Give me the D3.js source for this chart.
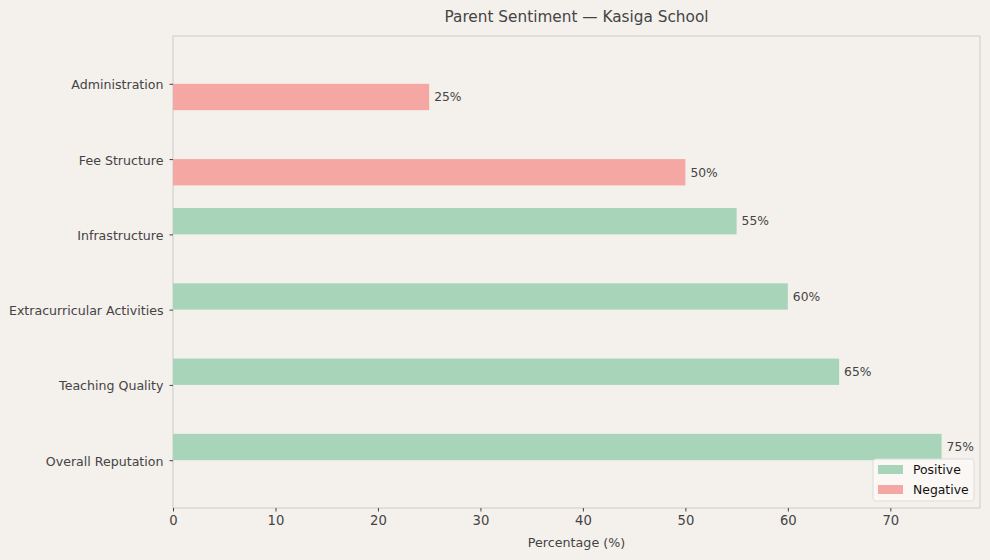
<!DOCTYPE html>
<html><head><meta charset="utf-8">
<script src="https://cdn.jsdelivr.net/npm/d3@7"></script>
<style>
body{margin:0;background:#f4f0ec;}
svg{display:block;font-family:"DejaVu Sans",sans-serif;}
</style></head>
<body>
<svg id="c" width="990" height="560"></svg>
<script>
const categories = ["Overall Reputation","Teaching Quality","Extracurricular Activities","Infrastructure","Fee Structure","Administration"];
const positive = [75,65,60,55,0,0];
const negative = [0,0,0,0,50,25];
const xTicks = [0,10,20,30,40,50,60,70];
const seriesNames = ["Positive","Negative"];
const colors = ["#a8d5b9","#f5a8a3"];

const svg = d3.select("#c");
svg.append("rect").attr("width",990).attr("height",560).attr("fill","#f4f0ec");
const L=173,R=980,T=36,B=508;
const x = d3.scaleLinear().domain([0,78.75]).range([L,R]);
const y = d3.scaleLinear().domain([-0.635,5.635]).range([B,T]);
const bw = 0.35;

svg.append("rect").attr("x",L).attr("y",T).attr("width",R-L).attr("height",B-T)
  .attr("fill","none").attr("stroke","#cccccc").attr("stroke-width",1);

const series=[positive,negative];
series.forEach((vals,si)=>{
  const off = si===0 ? bw/2 : -bw/2;
  svg.append("g").selectAll("rect").data(vals).join("rect")
    .attr("x",x(0))
    .attr("y",(d,i)=>y(i+off+bw/2))
    .attr("width",d=>x(d)-x(0))
    .attr("height",y(0)-y(bw))
    .attr("fill",colors[si]);
  svg.append("g").selectAll("text").data(vals.map((v,i)=>({v,i})).filter(d=>d.v>0)).join("text")
    .attr("x",d=>x(d.v)+5)
    .attr("y",d=>y(d.i+off))
    .attr("dy","0.35em")
    .attr("font-size",12.3)
    .attr("fill","#444")
    .text(d=>d.v+"%");
});

const xa = svg.append("g").attr("transform",`translate(0,${B})`)
  .call(d3.axisBottom(x).tickValues(xTicks).tickSize(3.5).tickPadding(4));
xa.select(".domain").remove();
xa.selectAll("line").attr("stroke","#444");
xa.selectAll("text").attr("font-size",13.2).attr("fill","#444").attr("font-family","DejaVu Sans");

const ya = svg.append("g").attr("transform",`translate(${L},0)`)
  .call(d3.axisLeft(y).tickValues(d3.range(categories.length)).tickFormat(i=>categories[i]).tickSize(3.5).tickPadding(6));
ya.select(".domain").remove();
ya.selectAll("line").attr("stroke","#444");
ya.selectAll("text").attr("font-size",12.6).attr("fill","#444").attr("font-family","DejaVu Sans").attr("dy","0.4em");

svg.append("text").attr("x",(L+R)/2).attr("y",22).attr("text-anchor","middle")
  .attr("font-size",15.3).attr("fill","#444").text("Parent Sentiment — Kasiga School");
svg.append("text").attr("x",(L+R)/2).attr("y",547).attr("text-anchor","middle")
  .attr("font-size",12.7).attr("fill","#444").text("Percentage (%)");

const lg = svg.append("g").attr("transform","translate(873,459)");
lg.append("rect").attr("width",101).attr("height",42).attr("rx",3)
  .attr("fill","#faf8f6").attr("fill-opacity",0.85).attr("stroke","#dddddd");
seriesNames.forEach((n,i)=>{
  lg.append("rect").attr("x",5).attr("y",6+i*20).attr("width",25).attr("height",9).attr("fill",colors[i]);
  lg.append("text").attr("x",40).attr("y",11+i*20).attr("dy","0.35em").attr("font-size",12.4).attr("fill","#111").text(n);
});
</script>
</body></html>
